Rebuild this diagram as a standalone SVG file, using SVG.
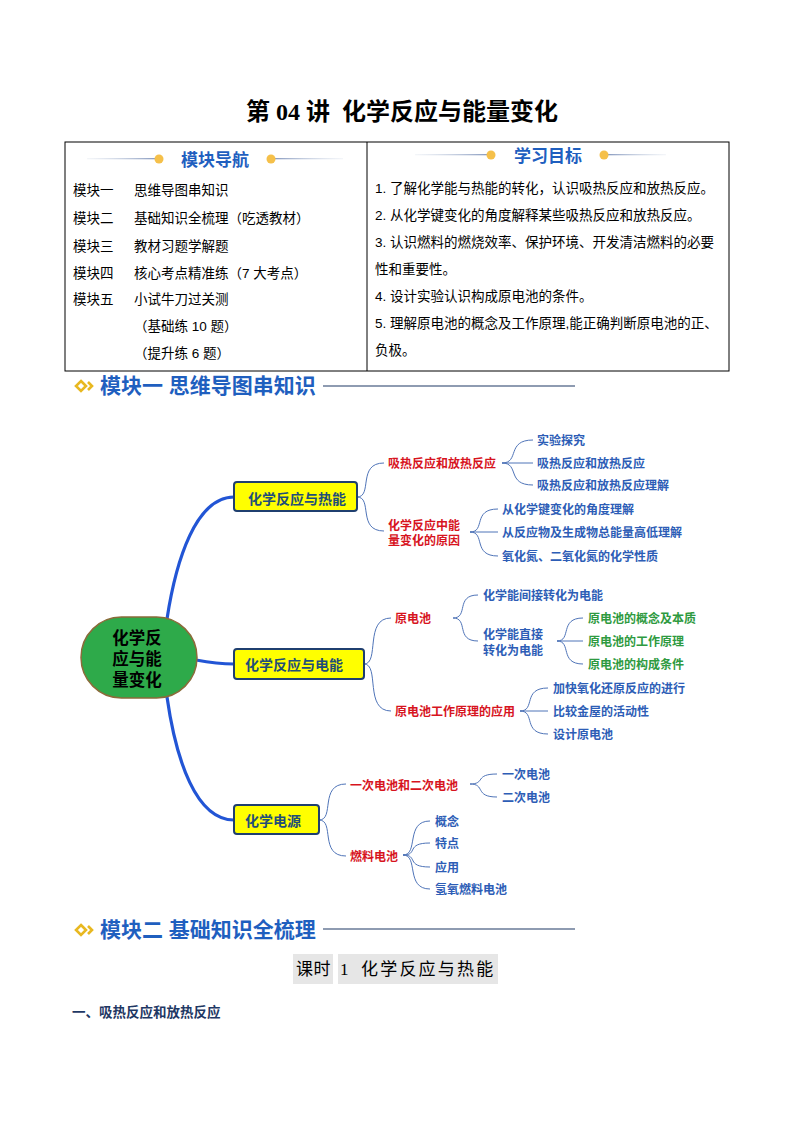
<svg xmlns="http://www.w3.org/2000/svg" width="794" height="1123" viewBox="0 0 794 1123">
<style>
text{font-family:"Liberation Sans","Noto Sans CJK SC",sans-serif}
text.serif{font-family:"Liberation Serif","Noto Sans CJK SC",serif}
.title{font-size:24px;font-weight:bold;fill:#000}
.hdr{font-size:17px;font-weight:bold;fill:#1F5FBF}
.row{font-size:13.5px;fill:#000}
.sec{font-size:21px;font-weight:bold;fill:#1F5FBF}
.box{fill:#FFFF00;stroke:#1F3F6F;stroke-width:2}
.boxt{font-size:14px;font-weight:bold;fill:#1F4E79}
.ct{font-size:16.5px;font-weight:bold;fill:#000;text-anchor:middle}
.r{font-size:12px;font-weight:bold;fill:#D7141E}
.b{font-size:12px;font-weight:bold;fill:#2D5DB6}
.g{font-size:12px;font-weight:bold;fill:#2E9A40}
.thick{fill:none;stroke:#2255D5;stroke-width:3.2;stroke-linecap:round}
.thin{fill:none;stroke:#4F74B8;stroke-width:1}
.dot{fill:#F5C04A}
</style>
<defs>
<linearGradient id="gl" x1="0" x2="1" y1="0" y2="0"><stop offset="0" stop-color="#C8D2E2" stop-opacity="0.2"/><stop offset="1" stop-color="#8A9CC0"/></linearGradient>
<linearGradient id="gr" x1="0" x2="1" y1="0" y2="0"><stop offset="0" stop-color="#8A9CC0"/><stop offset="1" stop-color="#C8D2E2" stop-opacity="0.2"/></linearGradient>
<g id="icon"><polygon points="0,-5 5,0 0,5 -5,0" fill="#fff" stroke="#E8B820" stroke-width="2.6"/><polyline points="7,-4 11,0 7,4" fill="none" stroke="#E8B820" stroke-width="2.6"/></g>
</defs>
<rect width="794" height="1123" fill="#fff"/>

<g id="title"><text class="title serif" x="402" y="120" text-anchor="middle" xml:space="preserve">第 04 讲  化学反应与能量变化</text></g>

<g id="table">
<rect x="65" y="142" width="664" height="229" fill="none" stroke="#000" stroke-width="1"/>
<line x1="367" y1="142" x2="367" y2="371" stroke="#000" stroke-width="1"/>
<rect x="87" y="158" width="68" height="1.3" fill="url(#gl)"/>
<rect x="275" y="158" width="68" height="1.3" fill="url(#gr)"/>
<circle class="dot" cx="159" cy="159" r="4.5"/><circle class="dot" cx="271" cy="159" r="4.5"/>
<text class="hdr" x="215" y="165.5" text-anchor="middle">模块导航</text>
<text class="row" x="73" y="195">模块一</text><text class="row" x="134" y="195">思维导图串知识</text>
<text class="row" x="73" y="223">模块二</text><text class="row" x="134" y="223">基础知识全梳理（吃透教材）</text>
<text class="row" x="73" y="251">模块三</text><text class="row" x="134" y="251">教材习题学解题</text>
<text class="row" x="73" y="278">模块四</text><text class="row" x="134" y="278">核心考点精准练（7 大考点）</text>
<text class="row" x="73" y="304">模块五</text><text class="row" x="134" y="304">小试牛刀过关测</text>
<text class="row" x="134" y="331">（基础练 10 题）</text>
<text class="row" x="134" y="358">（提升练 6 题）</text>
<rect x="415" y="154" width="72" height="1.3" fill="url(#gl)"/>
<rect x="608" y="154" width="58" height="1.3" fill="url(#gr)"/>
<circle class="dot" cx="491" cy="155" r="4.5"/><circle class="dot" cx="604" cy="155" r="4.5"/>
<text class="hdr" x="548" y="161.5" text-anchor="middle">学习目标</text>
<text class="row" x="375" y="193">1. 了解化学能与热能的转化，认识吸热反应和放热反应。</text>
<text class="row" x="375" y="220">2. 从化学键变化的角度解释某些吸热反应和放热反应。</text>
<text class="row" x="375" y="247">3. 认识燃料的燃烧效率、保护环境、开发清洁燃料的必要</text>
<text class="row" x="375" y="274">性和重要性。</text>
<text class="row" x="375" y="301">4. 设计实验认识构成原电池的条件。</text>
<text class="row" x="375" y="328">5. 理解原电池的概念及工作原理,能正确判断原电池的正、</text>
<text class="row" x="375" y="355">负极。</text>
</g>

<g id="sec1">
<use href="#icon" x="81" y="386"/>
<text class="sec" x="100" y="393">模块一 思维导图串知识</text>
<line x1="323" y1="386" x2="575" y2="386" stroke="#1F3864" stroke-width="1.2"/>
</g>

<g id="connectors">
<path class="thick" d="M167,619 C176,560 196,497 234,497"/>
<path class="thick" d="M196,660 C212,663 222,664 234,664"/>
<path class="thick" d="M167,697 C176,760 196,820 234,820"/>
<path class="thin" d="M357,497 C373,497 357,463 384,463 M357,497 C373,497 357,531 384,531"/>
<path class="thin" d="M502,463 H533 M502,463 C520,463 506,440 533,440 M502,463 C520,463 506,485 533,485"/>
<path class="thin" d="M470,532 H498 M470,532 C486,532 472,509 498,509 M470,532 C486,532 472,556 498,556"/>
<path class="thin" d="M364,664 C380,664 364,618 391,618 M364,664 C380,664 364,711 391,711"/>
<path class="thin" d="M453,618 C469,618 455,595 478,595 M453,618 C469,618 455,641 478,641"/>
<path class="thin" d="M557,641 H583 M557,641 C572,641 559,618 583,618 M557,641 C572,641 559,664 583,664"/>
<path class="thin" d="M520,711 H548 M520,711 C536,711 522,688 548,688 M520,711 C536,711 522,734 548,734"/>
<path class="thin" d="M319,820 C335,820 319,784 346,784 M319,820 C335,820 319,856 346,856"/>
<path class="thin" d="M470,784 C486,784 474,774 497,774 M470,784 C486,784 474,797 497,797"/>
<path class="thin" d="M403,855 C419,855 405,821 430,821 M403,855 C419,855 405,843 430,843 M403,855 C419,855 405,867 430,867 M403,855 C419,855 405,889 430,889"/>
</g>

<g id="center">
<rect x="81" y="617" width="116" height="81" rx="40.5" ry="40.5" fill="#2EAA4A" stroke="#8B6B3A" stroke-width="1.5"/>
<text class="ct" x="137" y="644">化学反</text>
<text class="ct" x="137" y="665">应与能</text>
<text class="ct" x="137" y="686">量变化</text>
</g>

<g id="box1"><rect class="box" x="234" y="482" width="123" height="29" rx="3"/><text class="boxt" x="248" y="504">化学反应与热能</text></g>
<g id="box2"><rect class="box" x="234" y="649" width="130" height="30" rx="3"/><text class="boxt" x="245" y="670">化学反应与电能</text></g>
<g id="box3"><rect class="box" x="234" y="805" width="85" height="29" rx="3"/><text class="boxt" x="245" y="826">化学电源</text></g>

<g id="n1"><text class="r" x="388" y="467.5">吸热反应和放热反应</text></g>
<g id="n1a"><text class="b" x="537" y="444.5">实验探究</text></g>
<g id="n1b"><text class="b" x="537" y="467.5">吸热反应和放热反应</text></g>
<g id="n1c"><text class="b" x="537" y="489.5">吸热反应和放热反应理解</text></g>
<g id="n2"><text class="r" x="388" y="529.5">化学反应中能</text><text class="r" x="388" y="544.5">量变化的原因</text></g>
<g id="n2a"><text class="b" x="502" y="513.5">从化学键变化的角度理解</text></g>
<g id="n2b"><text class="b" x="502" y="536.5">从反应物及生成物总能量高低理解</text></g>
<g id="n2c"><text class="b" x="502" y="560.5">氧化氮、二氧化氮的化学性质</text></g>

<g id="n3"><text class="r" x="395" y="622.5">原电池</text></g>
<g id="n3a"><text class="b" x="483" y="599.5">化学能间接转化为电能</text></g>
<g id="n3b"><text class="b" x="483" y="638.5">化学能直接</text><text class="b" x="483" y="654.5">转化为电能</text></g>
<g id="n3b1"><text class="g" x="588" y="622.5">原电池的概念及本质</text></g>
<g id="n3b2"><text class="g" x="588" y="645.5">原电池的工作原理</text></g>
<g id="n3b3"><text class="g" x="588" y="668.5">原电池的构成条件</text></g>
<g id="n4"><text class="r" x="395" y="715.5">原电池工作原理的应用</text></g>
<g id="n4a"><text class="b" x="553" y="692.5">加快氧化还原反应的进行</text></g>
<g id="n4b"><text class="b" x="553" y="715.5">比较金屋的活动性</text></g>
<g id="n4c"><text class="b" x="553" y="738.5">设计原电池</text></g>

<g id="n5"><text class="r" x="350" y="789.5">一次电池和二次电池</text></g>
<g id="n5a"><text class="b" x="502" y="778.5">一次电池</text></g>
<g id="n5b"><text class="b" x="502" y="801.5">二次电池</text></g>
<g id="n6"><text class="r" x="350" y="860.5">燃料电池</text></g>
<g id="n6a"><text class="b" x="435" y="825.5">概念</text></g>
<g id="n6b"><text class="b" x="435" y="847.5">特点</text></g>
<g id="n6c"><text class="b" x="435" y="871.5">应用</text></g>
<g id="n6d"><text class="b" x="435" y="893.5">氢氧燃料电池</text></g>

<g id="sec2">
<use href="#icon" x="81" y="930"/>
<text class="sec" x="100" y="937">模块二 基础知识全梳理</text>
<line x1="323" y1="929" x2="575" y2="929" stroke="#1F3864" stroke-width="1.2"/>
</g>

<g id="lesson">
<rect x="293" y="954" width="40" height="30" fill="#E6E6E6"/>
<rect x="338" y="954" width="160" height="30" fill="#E6E6E6"/>
<text x="296" y="975" font-size="17" fill="#000" letter-spacing="0.5">课时</text>
<text class="serif" x="340" y="975" font-size="17" fill="#000">1</text>
<text x="361" y="975" font-size="17" fill="#000" letter-spacing="2.2">化学反应与热能</text>
</g>

<g id="h1"><text x="72" y="1017" font-size="13.5" font-weight="bold" fill="#1F3864">一、吸热反应和放热反应</text></g>
</svg>
